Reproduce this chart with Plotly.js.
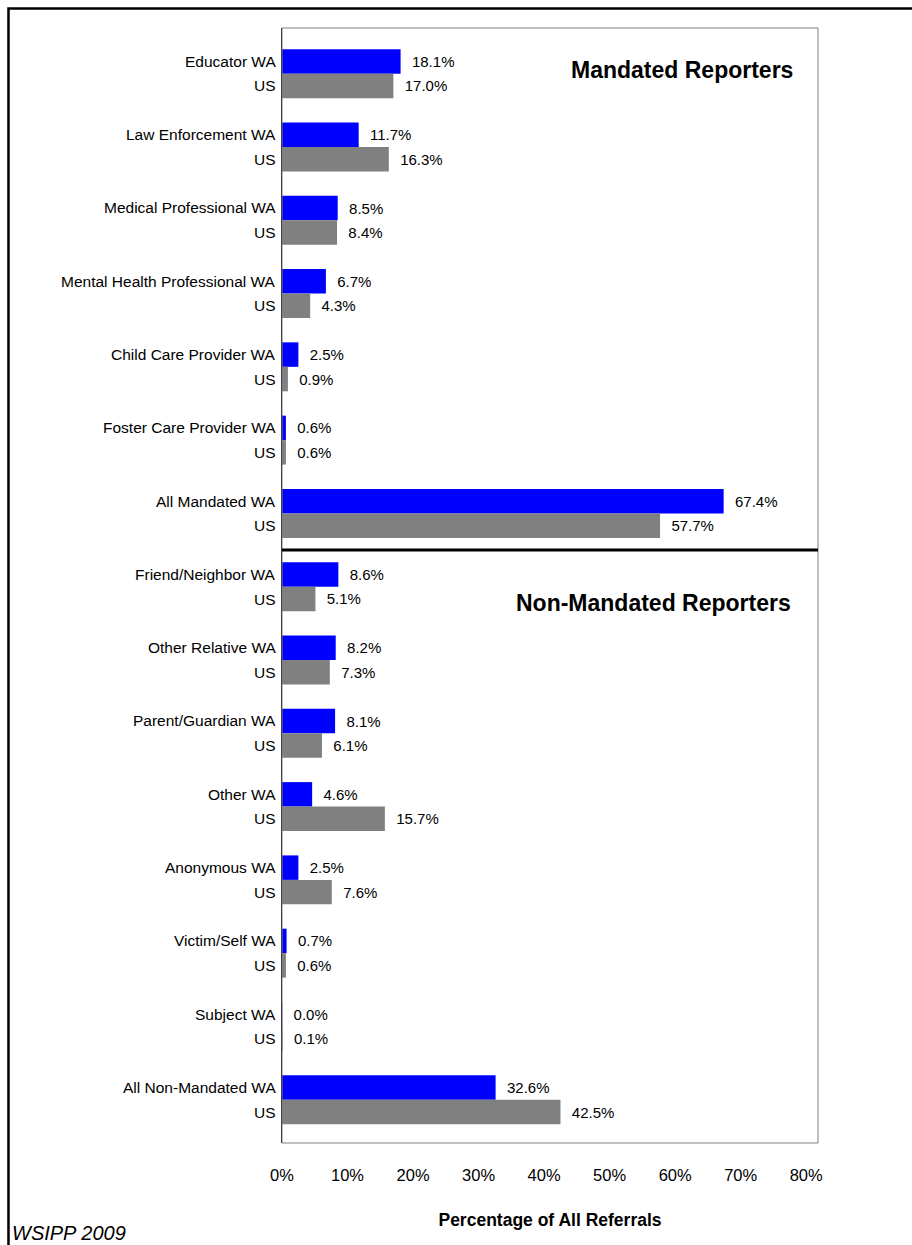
<!DOCTYPE html>
<html>
<head>
<meta charset="utf-8">
<script src="https://cdn.plot.ly/plotly-3.0.1.min.js"></script>
<style>
  html, body { margin: 0; padding: 0; background: #fff; overflow: hidden; }
  #chart { width: 912px; height: 1245px; }
</style>
</head>
<body>
<div id="chart"></div>
<script>
// ---- data ----
var categories = [
  'Educator', 'Law Enforcement', 'Medical Professional', 'Mental Health Professional',
  'Child Care Provider', 'Foster Care Provider', 'All Mandated',
  'Friend/Neighbor', 'Other Relative', 'Parent/Guardian', 'Other',
  'Anonymous', 'Victim/Self', 'Subject', 'All Non-Mandated'
];
var waValues = [18.1, 11.7, 8.5, 6.7, 2.5, 0.6, 67.4, 8.6, 8.2, 8.1, 4.6, 2.5, 0.7, 0.04, 32.6];
var usValues = [17.0, 16.3, 8.4, 4.3, 0.9, 0.6, 57.7, 5.1, 7.3, 6.1, 15.7, 7.6, 0.6, 0.1, 42.5];
var seriesNames = ['WA', 'US'];
var xTickVals = [0, 10, 20, 30, 40, 50, 60, 70, 80];
var xTickText = ['0%', '10%', '20%', '30%', '40%', '50%', '60%', '70%', '80%'];
var sectionTitles = ['Mandated Reporters', 'Non-Mandated Reporters'];
var axisTitle = 'Percentage of All Referrals';
var sourceNote = 'WSIPP 2009';

var FONT = 'Liberation Sans, Arial, sans-serif';
var NB = '\u00a0\u00a0';

var traceWA = {
  type: 'bar', orientation: 'h', name: seriesNames[0],
  y: categories, x: waValues,
  marker: { color: '#0000FF' },
  text: waValues.map(function (v) { return NB + v.toFixed(1) + '%'; }),
  textposition: 'outside', constraintext: 'none', cliponaxis: false,
  textfont: { family: FONT, size: 15, color: '#000' },
  hoverinfo: 'none'
};
var traceUS = {
  type: 'bar', orientation: 'h', name: seriesNames[1],
  y: categories, x: usValues,
  marker: { color: '#808080' },
  text: usValues.map(function (v) { return NB + v.toFixed(1) + '%'; }),
  textposition: 'outside', constraintext: 'none', cliponaxis: false,
  textfont: { family: FONT, size: 15, color: '#000' },
  hoverinfo: 'none'
};

var annotations = [];
categories.forEach(function (c) {
  annotations.push({
    xref: 'x', yref: 'y', x: 0, y: c, text: c + ' ' + seriesNames[0],
    xanchor: 'right', yanchor: 'middle', xshift: -4, yshift: 12.3,
    showarrow: false, font: { family: FONT, size: 15.5, color: '#000' }
  });
  annotations.push({
    xref: 'x', yref: 'y', x: 0, y: c, text: seriesNames[1],
    xanchor: 'right', yanchor: 'middle', xshift: -4, yshift: -12.3,
    showarrow: false, font: { family: FONT, size: 15.5, color: '#000' }
  });
});
annotations.push({
  xref: 'paper', yref: 'paper', x: 0.957, y: 0.962, text: '<b>' + sectionTitles[0] + '</b>',
  xanchor: 'right', yanchor: 'middle', showarrow: false,
  font: { family: FONT, size: 23, color: '#000' }
});
annotations.push({
  xref: 'paper', yref: 'paper', x: 0.953, y: 0.484, text: '<b>' + sectionTitles[1] + '</b>',
  xanchor: 'right', yanchor: 'middle', showarrow: false,
  font: { family: FONT, size: 23, color: '#000' }
});
annotations.push({
  xref: 'paper', yref: 'paper', x: -0.5075, y: -0.0807, text: '<i>' + sourceNote + '</i>',
  xanchor: 'left', yanchor: 'middle', showarrow: false,
  font: { family: FONT, size: 20, color: '#000' }
});

var layout = {
  width: 912, height: 1245,
  margin: { l: 282, r: 94, t: 28, b: 102, pad: 0 },
  paper_bgcolor: '#fff', plot_bgcolor: '#fff',
  showlegend: false,
  barmode: 'group', bargap: 0.332, bargroupgap: 0,
  font: { family: FONT, color: '#000' },
  xaxis: {
    range: [0, 81.8], tickvals: xTickVals, ticktext: xTickText,
    showgrid: false, zeroline: false, showline: false, ticks: '',
    ticklabelstandoff: 20,
    tickfont: { family: FONT, size: 16.5, color: '#000' },
    title: { text: '<b>' + axisTitle + '</b>', standoff: 31,
             font: { family: FONT, size: 17.5, color: '#000' } },
    automargin: false, fixedrange: true
  },
  yaxis: {
    type: 'category', range: [14.59, -0.623],
    showgrid: false, zeroline: false, showticklabels: false, ticks: '',
    showline: true, linecolor: '#000', linewidth: 1,
    automargin: false, fixedrange: true
  },
  shapes: [
    { type: 'rect', xref: 'paper', yref: 'paper', x0: 0, x1: 1, y0: 0, y1: 1,
      line: { color: '#808080', width: 1 }, layer: 'above' },
    { type: 'line', xref: 'paper', yref: 'y', x0: 0, x1: 1, y0: 6.5, y1: 6.5,
      line: { color: '#000', width: 3 }, layer: 'above' },
    { type: 'rect', xref: 'paper', yref: 'paper', x0: -0.5103, x1: 3, y0: -0.5, y1: 1.0175,
      line: { color: '#000', width: 2.5 }, layer: 'above' }
  ],
  annotations: annotations
};

Plotly.newPlot('chart', [traceWA, traceUS], layout, { staticPlot: true, displayModeBar: false });
</script>
</body>
</html>
